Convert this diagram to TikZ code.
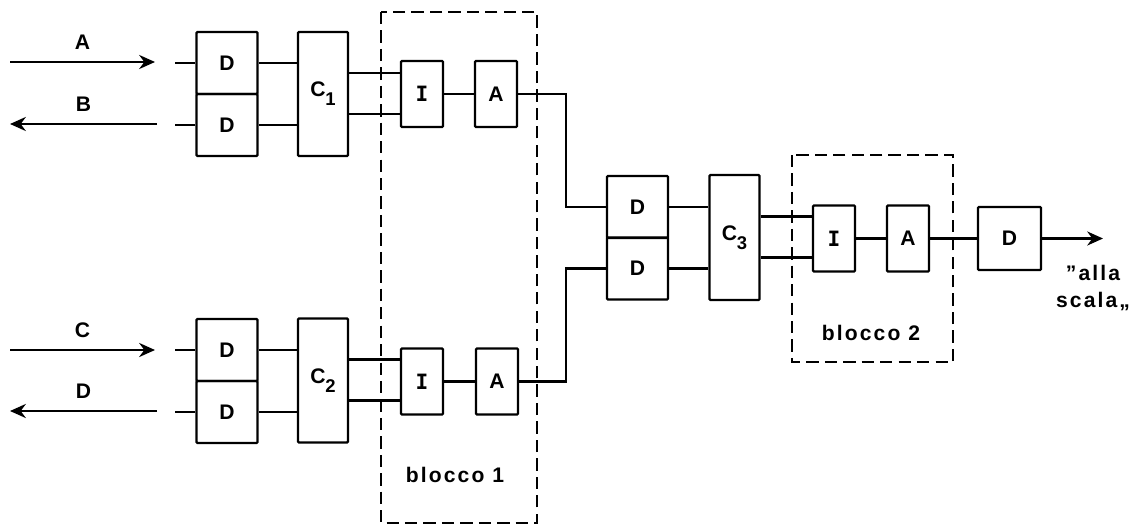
\documentclass[tikz,border=0pt]{standalone}
\usepackage{fontspec}
\setmainfont[LetterSpace=10]{Liberation Sans}
\newfontfamily\barfont{DejaVu Sans Mono}
\usetikzlibrary{arrows.meta}
\newcommand{\csub}[1]{\raisebox{-0.8ex}{\fontsize{10.5}{12}\selectfont #1}}
\tikzset{
  blk/.style={draw,line width=1.3pt,inner sep=0pt,rounded corners=0.5pt,
    font=\fontsize{12}{14}\selectfont\bfseries},
  dbox/.style={blk,minimum width=1.22cm,minimum height=1.24cm},
  cbox/.style={blk,minimum width=1cm,minimum height=2.48cm},
  ibox/.style={blk,minimum width=0.84cm,minimum height=1.32cm},
  wire/.style={line width=1.3pt},
  sig/.style={wire,-{Stealth[length=9pt,width=8pt]}},
  frame/.style={line width=1.2pt,dash pattern=on 7pt off 3.5pt},
  lbl/.style={font=\fontsize{12}{14}\selectfont\bfseries}
}
\begin{document}
\begin{tikzpicture}[x=0.02cm,y=-0.02cm]
  \useasboundingbox (0,0) rectangle (1142,527);
  % blocchi tratteggiati
  \draw[frame] (381,12) rectangle (537,523);
  \draw[frame] (792,155) rectangle (953,362);
  \node[lbl] (b1) at (455,475) {blocco 1};
  \node[lbl] (b2) at (871,333) {blocco 2};

  % ramo superiore
  \node[dbox] (dA) at (227,63) {D};
  \node[dbox] (dB) at (227,125) {D};
  \node[cbox] (c1) at (323,94) {C\csub{1}};
  \node[ibox] (i1) at (422,94) {\barfont I};
  \node[ibox] (a1) at (496,94) {A};
  % ramo inferiore
  \node[dbox] (dC) at (227,350) {D};
  \node[dbox] (dD) at (227,412) {D};
  \node[cbox] (c2) at (323,380.5) {C\csub{2}};
  \node[ibox] (i2) at (422,381.5) {\barfont I};
  \node[ibox] (a2) at (497,381.5) {A};
  % centro e uscita
  \node[dbox] (dM) at (637.5,207) {D};
  \node[dbox] (dN) at (637.5,268.5) {D};
  \node[cbox,minimum height=2.5cm] (c3) at (734.5,237.5) {C\csub{3}};
  \node[ibox] (i3) at (834,238.5) {\barfont I};
  \node[ibox] (a3) at (908,238.5) {A};
  \node[dbox,minimum width=1.26cm,minimum height=1.26cm] (dO) at (1009.5,238.5) {D};

  % segnali esterni
  \coordinate (inA) at (10,62);  \coordinate (tA) at (155,62);
  \coordinate (inB) at (10,124); \coordinate (tB) at (157,124);
  \coordinate (inC) at (10,350); \coordinate (tC) at (155,350);
  \coordinate (inD) at (10,411); \coordinate (tD) at (157,411);
  \draw[sig] (inA) -- (tA) node[lbl,midway,above=3pt] {A};
  \draw[sig] (tB) -- (inB) node[lbl,midway,above=3pt] {B};
  \draw[sig] (inC) -- (tC) node[lbl,midway,above=3pt] {C};
  \draw[sig] (tD) -- (inD) node[lbl,midway,above=3pt] {D};
  \foreach \d in {dA,dB,dC,dD}
    \draw[wire] (\d.west) -- ++(-20,0);

  % collegamenti
  \foreach \d/\c in {dA/c1,dB/c1,dC/c2,dD/c2,dM/c3,dN/c3}
    \draw[wire] (\d.east) -- (\d.east -| \c.west);
  \foreach \c/\i in {c1/i1,c2/i2,c3/i3} {
    \draw[wire] ([yshift=0.42cm]\c.east) -- ([yshift=0.42cm]\c.east -| \i.west);
    \draw[wire] ([yshift=-0.4cm]\c.east) -- ([yshift=-0.4cm]\c.east -| \i.west);}
  \draw[wire] (i1) -- (a1);
  \draw[wire] (i2) -- (a2);
  \draw[wire] (i3) -- (a3);
  \draw[wire] (a3) -- (dO);
  \coordinate (j) at (566,240);
  \draw[wire] (a1.east) -| (j |- dM.west) -- (dM.west);
  \draw[wire] (a2.east) -| (j |- dN.west) -- (dN.west);
  \coordinate (out) at (1103,238.5);
  \draw[sig] (dO.east) -- (out);
  \node[lbl,align=center,inner sep=0pt] (sc) at (1093,288) {''alla\\[1pt]scala,,};
\end{tikzpicture}
\end{document}
